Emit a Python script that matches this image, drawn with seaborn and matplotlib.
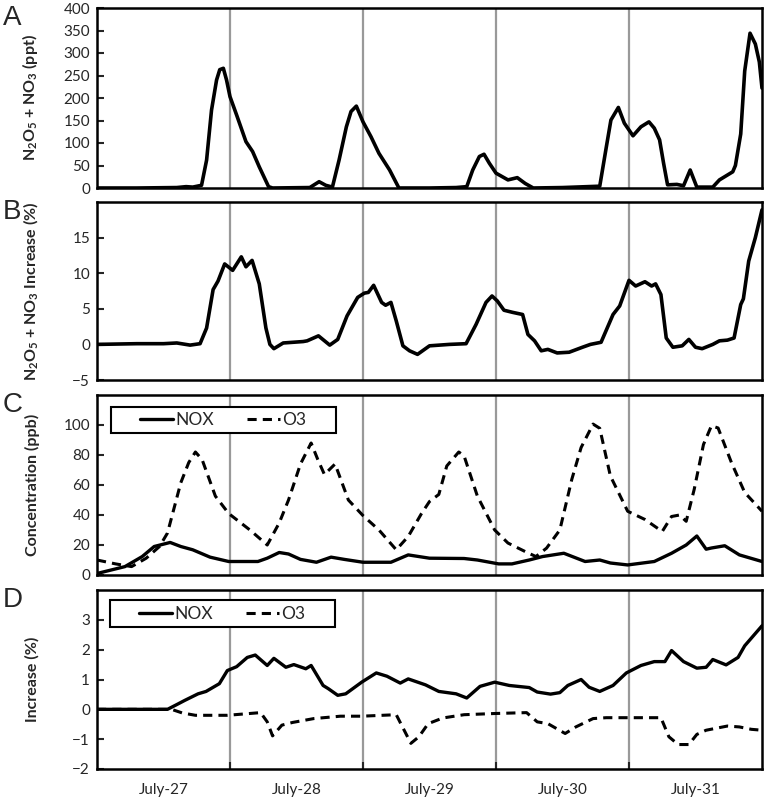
import matplotlib
matplotlib.use("Agg")
import matplotlib.pyplot as plt
from matplotlib.patches import Rectangle
import seaborn as sns
import pandas as pd

# x values are days since July-27 00:00
a_x = [0, 0.3, 0.6, 0.67, 0.72, 0.786, 0.824, 0.861, 0.899, 0.923, 0.95, 0.974, 1.0, 1.05, 1.12,
       1.17, 1.22, 1.29, 1.32, 1.6, 1.67, 1.72, 1.77, 1.82, 1.875, 1.91, 1.95, 2.0, 2.06, 2.12,
       2.2, 2.27, 2.5, 2.7, 2.78, 2.825, 2.875, 2.91, 2.95, 3.0, 3.09, 3.16, 3.22, 3.28, 3.5,
       3.78, 3.83, 3.864, 3.92, 3.965, 4.03, 4.09, 4.15, 4.19, 4.23, 4.26, 4.29, 4.36, 4.41,
       4.46, 4.51, 4.63, 4.68, 4.78, 4.80, 4.84, 4.87, 4.91, 4.95, 4.98, 5.0]
a_y = [0, 0, 1, 3, 2, 6, 62, 173, 240, 263, 266, 240, 203, 162, 103,
       81, 47, 3, 0, 1, 14, 6, 2, 62, 136, 170, 182, 147, 114, 77,
       40, 0, 0, 1, 3, 40, 70, 75, 55, 33, 18, 23, 10, 0, 1,
       4, 92, 151, 179, 144, 116, 136, 147, 133, 107, 55, 7, 8, 5,
       40, 2, 2, 18, 36, 50, 120, 260, 344, 320, 280, 222]

b_x = [0, 0.3, 0.5, 0.6, 0.7, 0.775, 0.824, 0.873, 0.91, 0.96, 1.02, 1.085, 1.12, 1.166, 1.22,
       1.27, 1.3, 1.33, 1.40, 1.55, 1.58, 1.665, 1.75, 1.81, 1.88, 1.96, 2.01, 2.04, 2.08, 2.14,
       2.17, 2.21, 2.25, 2.30, 2.35, 2.41, 2.50, 2.65, 2.775, 2.85, 2.925, 2.97, 3.01, 3.06,
       3.125, 3.2, 3.24, 3.29, 3.34, 3.39, 3.46, 3.55, 3.65, 3.71, 3.79, 3.88, 3.93, 4.0, 4.05,
       4.12, 4.17, 4.2, 4.24, 4.28, 4.33, 4.40, 4.45, 4.5, 4.55, 4.63, 4.68, 4.74, 4.79, 4.84,
       4.86, 4.90, 4.95, 5.0]
b_y = [0, 0.1, 0.1, 0.2, -0.1, 0.1, 2.3, 7.7, 8.9, 11.3, 10.4, 12.3, 10.9, 11.8, 8.5,
       2.3, 0, -0.6, 0.2, 0.4, 0.5, 1.2, -0.1, 0.7, 4.0, 6.6, 7.2, 7.3, 8.3, 5.9,
       5.5, 5.9, 3.3, -0.2, -0.9, -1.4, -0.2, 0, 0.1, 2.8, 5.9, 6.8, 6.1, 4.8,
       4.5, 4.2, 1.4, 0.5, -0.9, -0.7, -1.2, -1.1, -0.4, 0, 0.3, 4.2, 5.4, 9.0, 8.2,
       8.8, 8.2, 8.5, 7.0, 0.9, -0.4, -0.2, 0.7, -0.4, -0.6, 0, 0.5, 0.6, 0.9, 5.6,
       6.4, 11.7, 15.0, 18.9]

c_o3_x = [0.0, 0.14, 0.26, 0.37, 0.47, 0.53, 0.63, 0.69, 0.74, 0.79, 0.89, 0.99, 1.15, 1.28,
          1.37, 1.44, 1.53, 1.61, 1.66, 1.71, 1.79, 1.89, 2.0, 2.12, 2.25, 2.34, 2.44, 2.50,
          2.57, 2.63, 2.72, 2.76, 2.86, 2.99, 3.09, 3.22, 3.30, 3.38, 3.48, 3.57, 3.64, 3.73,
          3.78, 3.86, 3.99, 4.12, 4.25, 4.32, 4.38, 4.43, 4.49, 4.56, 4.62, 4.67, 4.77, 4.87, 5.0]
c_o3_y = [10, 7.4, 5.6, 11.2, 19, 28, 61.5, 75, 82, 77, 52.6, 41, 30, 20,
          34.7, 50, 74, 88, 77, 67, 74, 50, 39.6, 30, 16.8, 25.7, 41, 49,
          53.7, 72.7, 82, 79.4, 52.6, 30, 21.3, 15.6, 12.3, 17.9, 30, 63.8, 85, 100.6,
          97.8, 66, 42.5, 37, 29, 39, 40, 35.8, 57, 87, 99.5, 98, 75, 55, 42.5]
c_nox_x = [0.0, 0.21, 0.34, 0.43, 0.55, 0.63, 0.72, 0.85, 0.99, 1.21, 1.28, 1.37, 1.44, 1.53,
           1.65, 1.76, 1.86, 2.0, 2.21, 2.34, 2.50, 2.76, 2.86, 3.02, 3.12, 3.25, 3.35, 3.51,
           3.67, 3.78, 3.86, 3.99, 4.19, 4.32, 4.43, 4.51, 4.58, 4.62, 4.72, 4.83, 5.0]
c_nox_y = [1, 5.6, 12.3, 19, 21.7, 19, 16.8, 11.9, 9, 9, 11.2, 15, 14, 10.4,
           8.5, 11.9, 10.4, 8.5, 8.5, 13.4, 11.2, 11, 10, 7.4, 7.4, 10, 12.3, 14.5,
           9, 10, 8, 6.7, 9, 14.5, 20, 26, 17.2, 18, 19.5, 13.4, 9]

d_nox_x = [0.0, 0.53, 0.60, 0.66, 0.76, 0.82, 0.92, 0.98, 1.05, 1.13, 1.19, 1.28, 1.33, 1.42,
           1.48, 1.57, 1.61, 1.70, 1.74, 1.81, 1.87, 1.99, 2.10, 2.18, 2.28, 2.34, 2.47, 2.57,
           2.70, 2.78, 2.88, 2.99, 3.10, 3.25, 3.31, 3.41, 3.48, 3.54, 3.64, 3.70, 3.78, 3.88,
           3.98, 4.09, 4.19, 4.27, 4.32, 4.41, 4.51, 4.58, 4.63, 4.73, 4.82, 4.87, 5.0]
d_nox_y = [0, 0, 0.16, 0.3, 0.52, 0.6, 0.86, 1.3, 1.43, 1.74, 1.82, 1.47, 1.71, 1.41,
           1.5, 1.36, 1.47, 0.8, 0.69, 0.47, 0.52, 0.91, 1.22, 1.11, 0.88, 1.02, 0.82, 0.6,
           0.52, 0.38, 0.77, 0.91, 0.8, 0.73, 0.58, 0.51, 0.56, 0.8, 1.0, 0.74, 0.6, 0.8,
           1.22, 1.47, 1.6, 1.6, 1.97, 1.6, 1.38, 1.41, 1.67, 1.49, 1.74, 2.13, 2.8]
d_o3_x = [0.0, 0.56, 0.64, 0.74, 0.98, 1.23, 1.28, 1.32, 1.39, 1.47, 1.63, 1.83, 1.99, 2.25,
          2.29, 2.36, 2.42, 2.49, 2.60, 2.76, 2.99, 3.23, 3.31, 3.39, 3.52, 3.60, 3.73, 3.83,
          4.24, 4.30, 4.37, 4.45, 4.51, 4.58, 4.74, 4.83, 4.92, 5.0]
d_o3_y = [0, 0, -0.12, -0.2, -0.2, -0.11, -0.42, -0.89, -0.53, -0.44, -0.31, -0.23, -0.23, -0.18,
          -0.53, -1.14, -0.92, -0.48, -0.29, -0.18, -0.14, -0.11, -0.42, -0.48, -0.81, -0.59, -0.31, -0.28,
          -0.28, -0.92, -1.18, -1.18, -0.84, -0.7, -0.56, -0.59, -0.67, -0.7]

day_labels = ["July-27", "July-28", "July-29", "July-30", "July-31"]

sns.set_style("white")
plt.rcParams['font.family'] = ['Lato', 'DejaVu Sans']
plt.rcParams['mathtext.fontset'] = 'custom'
plt.rcParams['mathtext.bf'] = 'Lato:bold'
plt.rcParams['mathtext.rm'] = 'Lato:bold'
plt.rcParams['mathtext.default'] = 'bf'

fig = plt.figure(figsize=(7.66, 7.97), dpi=100)
L, W = 97 / 766, 665 / 766
rects = [(8, 188), (202, 380), (395, 575), (590, 769)]
axes = [fig.add_axes([L, 1 - b / 797, W, (b - t) / 797]) for t, b in rects]

df_a = pd.DataFrame({'day': a_x, 'val': a_y})
df_b = pd.DataFrame({'day': b_x, 'val': b_y})

sns.lineplot(data=df_a, x='day', y='val', ax=axes[0], color='black', lw=2.6)
sns.lineplot(data=df_b, x='day', y='val', ax=axes[1], color='black', lw=2.6)
for ax, (nx, ny, ox, oy) in zip(axes[2:], [(c_nox_x, c_nox_y, c_o3_x, c_o3_y),
                                           (d_nox_x, d_nox_y, d_o3_x, d_o3_y)]):
    sns.lineplot(x=nx, y=ny, ax=ax, color='black', lw=2.4, label='NOX')
    sns.lineplot(x=ox, y=oy, ax=ax, color='black', lw=2.2, label='O3', dashes=False)
    ax.lines[-1].set_linestyle((0, (3, 2)))

ylims = [(0, 400), (-5, 20), (0, 120), (-2, 4)]
yticks = [range(0, 401, 50), range(-5, 16, 5), range(0, 101, 20), range(-2, 4)]
ylabels = [r"N$_2$O$_5$ + NO$_3$ (ppt)", r"N$_2$O$_5$ + NO$_3$ Increase (%)",
           "Concentration (ppb)", "Increase (%)"]
letters = ["A", "B", "C", "D"]

for i, ax in enumerate(axes):
    ax.set_xlim(0, 5)
    ax.set_ylim(*ylims[i])
    ax.set_yticks(list(yticks[i]))
    for d in range(1, 5):
        ax.axvline(d, color='#999999', lw=1.6, zorder=0)
    for s in ax.spines.values():
        s.set_color('black')
        s.set_linewidth(1.8)
    ax.tick_params(axis='y', direction='in', length=5, width=1.5, labelsize=11, pad=5,
                   left=True)
    ax.set_ylabel(ylabels[i], fontsize=11.5, fontweight='bold')
    ax.yaxis.set_label_coords(-0.086, 0.5)
    ax.set_xlabel('')
    ax.set_xticks([1, 2, 3, 4])
    ax.tick_params(axis='x', direction='in', length=5, width=1.5, bottom=(i == 3),
                   labelbottom=False)
    fig.text(0.004, 1 - (rects[i][0] - 3) / 797, letters[i], fontsize=20,
             family='Liberation Sans', va='top', ha='left')

axes[3].set_xticks([d + 0.5 for d in range(5)], minor=True)
axes[3].set_xticklabels(day_labels, minor=True)
axes[3].tick_params(axis='x', which='minor', length=0, labelsize=11, pad=10)

# legend boxes (axes fraction): x0, y0, w, h
legend_boxes = [(0.021, 0.789, 0.338, 0.144), (0.019, 0.792, 0.339, 0.152)]
for ax, (bx, by, bw, bh) in zip(axes[2:], legend_boxes):
    ax.add_patch(Rectangle((bx, by), bw, bh, transform=ax.transAxes, facecolor='white',
                           edgecolor='black', lw=1.5, zorder=4))
    leg = ax.legend(loc='center', bbox_to_anchor=(bx + bw / 2, by + bh / 2), ncol=2,
                    frameon=False, fontsize=12.5, handlelength=1.9, handletextpad=0.12,
                    columnspacing=1.9, borderpad=0, borderaxespad=0)
    leg.set_zorder(5)

fig.savefig("out.png", dpi=100)
